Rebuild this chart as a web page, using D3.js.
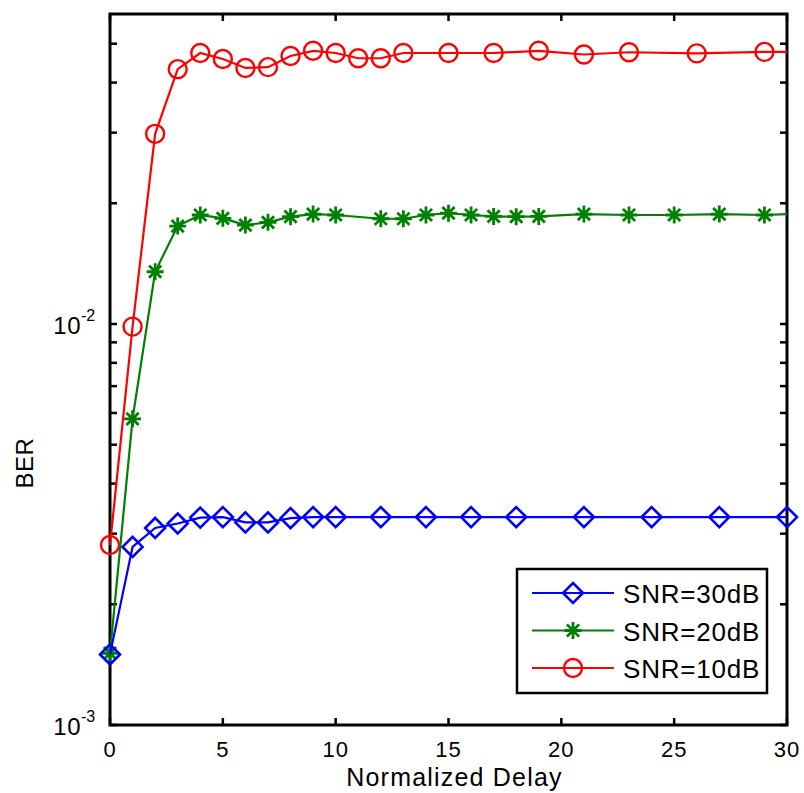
<!DOCTYPE html>
<html>
<head>
<meta charset="utf-8">
<script src="https://cdn.jsdelivr.net/npm/d3@7"></script>
<style>
  body { margin: 0; background: #fff; }
  svg text { font-family: "Liberation Sans", Arial, sans-serif; fill: #000; }
</style>
</head>
<body>
<svg id="chart"></svg>
<script>
// BER vs normalized delay, three SNR levels
const xTicks = [0, 5, 10, 15, 20, 25, 30];
const yDecades = [1e-3, 1e-2];

const snr30X = [0, 1, 2, 3, 4, 5, 6, 7, 8, 9, 10, 12, 14, 16, 18, 21, 24, 27, 30];
const snr30Y = [0.0015, 0.00278, 0.0031, 0.00318, 0.00329, 0.0033, 0.0032, 0.0032, 0.00328, 0.0033,
  0.0033, 0.0033, 0.0033, 0.0033, 0.0033, 0.0033, 0.0033, 0.0033, 0.0033];
const snr30Marks = [0, 1, 2, 3, 4, 5, 6, 7, 8, 9, 10, 12, 14, 16, 18, 21, 24, 27, 30];

const snr20X = [0, 1, 2, 3, 4, 5, 6, 7, 8, 9, 10, 12, 13, 14, 15, 16, 17, 18, 19, 21, 23, 25, 27, 29, 30];
const snr20Y = [0.00151, 0.0058, 0.0135, 0.01755, 0.0187, 0.01834, 0.01765, 0.01793, 0.01852, 0.0188,
  0.0187, 0.0183, 0.0183, 0.0187, 0.0189, 0.0187, 0.01855, 0.01852, 0.01855, 0.0188,
  0.0187, 0.0187, 0.0188, 0.0187, 0.0188];
const snr20Marks = [0, 1, 2, 3, 4, 5, 6, 7, 8, 9, 10, 12, 13, 14, 15, 16, 17, 18, 19, 21, 23, 25, 27, 29];

const snr10X = [0, 1, 2, 3, 4, 5, 6, 7, 8, 9, 10, 11, 12, 13, 15, 17, 19, 21, 23, 26, 29, 30];
const snr10Y = [0.00281, 0.00985, 0.0298, 0.0432, 0.0474, 0.0458, 0.0435, 0.0437, 0.0466, 0.048,
  0.0474, 0.046, 0.046, 0.0474, 0.0474, 0.0474, 0.048, 0.047, 0.0476, 0.0473, 0.0477, 0.0477];
const snr10Marks = [0, 1, 2, 3, 4, 5, 6, 7, 8, 9, 10, 11, 12, 13, 15, 17, 19, 21, 23, 26, 29];

const seriesNames = ["SNR=30dB", "SNR=20dB", "SNR=10dB"];
const seriesColors = ["#0000ff", "#008000", "#ff0000"];
const seriesShapes = ["diamond", "star", "circle"];

const W = 804, H = 793;
const margin = {top: 14, right: 17, bottom: 68, left: 110};
const width = W - margin.left - margin.right;
const height = H - margin.top - margin.bottom;

const svg = d3.select("#chart").attr("width", W).attr("height", H);
const chart = svg.append("g").attr("transform", `translate(${margin.left},${margin.top})`);

const x = d3.scaleLinear().domain([0, 30]).range([0, width]);
const y = d3.scaleLog().domain([1e-3, 0.0593]).range([height, 0]);

// minor ticks on log axis
let minor = [];
[1e-3, 1e-2].forEach(d => { for (let k = 2; k <= 9; k++) { const v = d * k; if (v <= 0.0593) minor.push(v); } });
const tickLen = 7;

const ticksG = chart.append("g").attr("stroke", "#000").attr("stroke-width", 2.5);
yDecades.concat(minor).forEach(v => {
  ticksG.append("line").attr("x1", 0).attr("x2", tickLen).attr("y1", y(v)).attr("y2", y(v));
  ticksG.append("line").attr("x1", width).attr("x2", width - tickLen).attr("y1", y(v)).attr("y2", y(v));
});
xTicks.forEach(v => {
  ticksG.append("line").attr("x1", x(v)).attr("x2", x(v)).attr("y1", height).attr("y2", height - tickLen);
  ticksG.append("line").attr("x1", x(v)).attr("x2", x(v)).attr("y1", 0).attr("y2", tickLen);
});

chart.append("rect")
  .attr("width", width).attr("height", height)
  .attr("fill", "none").attr("stroke", "#000").attr("stroke-width", 3);

// tick labels
chart.append("g").selectAll("text")
  .data(xTicks).enter().append("text")
  .attr("x", d => x(d)).attr("y", height + 32)
  .attr("text-anchor", "middle")
  .style("font-size", "22px").style("letter-spacing", "1px")
  .text(d => d);

const yLab = chart.append("g");
yDecades.forEach(v => {
  const e = Math.round(Math.log10(v));
  yLab.append("text").attr("x", -29).attr("y", y(v) + 10)
    .attr("text-anchor", "end").style("font-size", "24px").style("letter-spacing", "0.5px").text("10");
  yLab.append("text").attr("x", -29).attr("y", y(v) - 3)
    .attr("text-anchor", "start").style("font-size", "16px").text(e);
});

svg.append("text")
  .attr("x", margin.left + width / 2 + 6).attr("y", H - 7)
  .attr("text-anchor", "middle").style("font-size", "25px").style("letter-spacing", "1.2px")
  .text("Normalized Delay");

svg.append("text")
  .attr("transform", `translate(33,${margin.top + y(0.0045)}) rotate(-90)`)
  .attr("text-anchor", "middle").style("font-size", "24px").style("letter-spacing", "0.5px")
  .text("BER");

// markers
function drawMarker(g, shape, color, cx, cy) {
  if (shape === "circle") {
    g.append("circle").attr("cx", cx).attr("cy", cy).attr("r", 9)
      .attr("fill", "none").attr("stroke", color).attr("stroke-width", 2.4);
  } else if (shape === "diamond") {
    const r = 10;
    g.append("path").attr("d", `M${cx},${cy - r}L${cx + r},${cy}L${cx},${cy + r}L${cx - r},${cy}Z`)
      .attr("fill", "none").attr("stroke", color).attr("stroke-width", 2.6);
  } else {
    const r = 8.5;
    const d = r * 0.72;
    g.append("path")
      .attr("d", `M${cx - r},${cy}H${cx + r}M${cx},${cy - r}V${cy + r}M${cx - d},${cy - d}L${cx + d},${cy + d}M${cx - d},${cy + d}L${cx + d},${cy - d}`)
      .attr("stroke", color).attr("stroke-width", 2.8);
  }
}

const allX = [snr30X, snr20X, snr10X];
const allY = [snr30Y, snr20Y, snr10Y];
const allMarks = [snr30Marks, snr20Marks, snr10Marks];

const line = d3.line().x(d => x(d[0])).y(d => y(d[1]));

// draw red first so blue sits on top like the original
[2, 1, 0].forEach(i => {
  const pts = d3.zip(allX[i], allY[i]);
  const g = chart.append("g");
  g.append("path").datum(pts).attr("d", line)
    .attr("fill", "none").attr("stroke", seriesColors[i]).attr("stroke-width", 2.2);
  pts.filter(p => allMarks[i].includes(p[0]))
    .forEach(p => drawMarker(g, seriesShapes[i], seriesColors[i], x(p[0]), y(p[1])));
});

// legend
const leg = svg.append("g").attr("transform", "translate(517,569)");
leg.append("rect").attr("width", 250).attr("height", 124)
  .attr("fill", "#fff").attr("stroke", "#000").attr("stroke-width", 2.5);
seriesNames.forEach((name, i) => {
  const ly = 24 + i * 37.5;
  leg.append("line").attr("x1", 15).attr("x2", 97).attr("y1", ly).attr("y2", ly)
    .attr("stroke", seriesColors[i]).attr("stroke-width", 2.2);
  drawMarker(leg, seriesShapes[i], seriesColors[i], 56, ly);
  leg.append("text").attr("x", 106).attr("y", ly + 10)
    .style("font-size", "26px").style("letter-spacing", "0.8px").text(name);
});
</script>
</body>
</html>
